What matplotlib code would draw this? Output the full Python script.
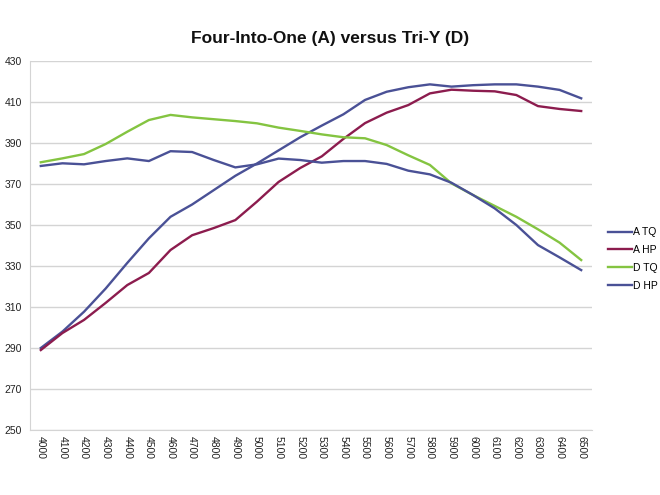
import matplotlib
matplotlib.use("Agg")
import matplotlib.pyplot as plt

rpm = [str(v) for v in range(4000, 6600, 100)]
a_tq = [290, 298, 307.7, 319, 331.5, 343.5, 354, 360, 367, 374, 380, 386.4, 392.8, 398.5, 404, 411, 415, 417.2, 418.6, 417.5, 418.2, 418.6, 418.6, 417.5, 415.9, 411.8]
a_hp = [289, 297.3, 303.7, 312, 320.7, 326.6, 337.8, 345, 348.5, 352.4, 361.4, 371, 377.8, 383.5, 392, 399.7, 404.8, 408.5, 414.2, 416, 415.5, 415.2, 413.4, 408, 406.6, 405.6]
d_tq = [380.6, 382.5, 384.6, 389.5, 395.5, 401.2, 403.7, 402.5, 401.6, 400.7, 399.6, 397.5, 395.9, 394.2, 392.8, 392.3, 389, 384, 379.3, 370.3, 364.6, 359.3, 354, 347.9, 341.4, 332.9]
d_hp = [378.8, 380.1, 379.6, 381.2, 382.5, 381.2, 386, 385.6, 381.7, 378.1, 379.6, 382.4, 381.7, 380.4, 381.2, 381.2, 379.8, 376.5, 374.7, 370.6, 364.6, 358.1, 350, 340.2, 334.2, 328]
series_names = ["A TQ", "A HP", "D TQ", "D HP"]
colors = ["#4a5196", "#8c1c4e", "#84c441", "#4a5196"]
y_ticks = list(range(250, 431, 20))

plt.rcParams['font.family'] = ['Liberation Sans', 'DejaVu Sans']
fig = plt.figure(figsize=(6.6, 4.95), dpi=100)
ax = fig.add_axes([30/660, 1-430/495, 562/660, 369/495])

x = list(range(len(rpm)))
lines = []
for data, name, c in zip([a_tq, a_hp, d_tq, d_hp], series_names, colors):
    ln, = ax.plot(x, data, color=c, lw=1.7, label=name)
    lines.append(ln)

ax.set_xlim(-0.5, len(rpm) - 0.5)
ax.set_ylim(250, 430)
ax.set_yticks(y_ticks)
ax.set_yticklabels([str(v) for v in y_ticks], fontsize=7.5, color="#222222")
ax.set_xticks(x)
ax.set_xticklabels(rpm, rotation=270, fontsize=7.5, color="#222222")
ax.tick_params(axis='both', length=0, pad=4)
ax.tick_params(axis='y', pad=6)
ax.grid(axis='y', color="#d4d4d4", lw=1)
ax.set_axisbelow(True)
for s in ['top', 'right']:
    ax.spines[s].set_visible(False)
ax.spines['left'].set_color("#d4d4d4")
ax.spines['bottom'].set_color("#d4d4d4")

fig.text(0.5, 1-38/495, "Four-Into-One (A) versus Tri-Y (D)", ha='center', va='center',
         fontsize=12.5, fontweight='bold', color="#111111")

leg = fig.legend(handles=lines, loc='center left', bbox_to_anchor=(608/660, 1-259/495),
                 frameon=False, fontsize=7.5, handlelength=2.3, handletextpad=0.1,
                 labelspacing=0.75, borderpad=0, borderaxespad=0)

fig.savefig("out.png", dpi=100)
